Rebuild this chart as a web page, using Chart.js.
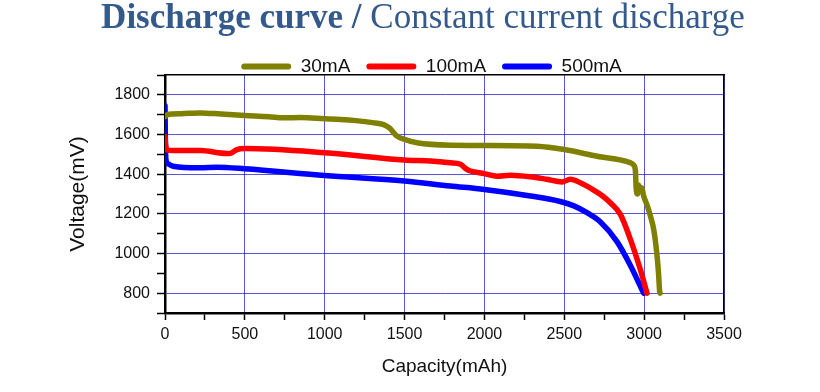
<!DOCTYPE html>
<html>
<head>
<meta charset="utf-8">
<script src="https://cdn.jsdelivr.net/npm/chart.js@4.4.1/dist/chart.umd.min.js"></script>
<style>
  html, body { margin: 0; padding: 0; background: #fff; }
  #wrap { position: relative; width: 820px; height: 392px; }
  #title {
    position: absolute; left: 0; top: -1px; width: 846px; text-align: center;
    font-family: "Liberation Serif", "Times New Roman", serif; font-size: 35px;
    line-height: 36px; color: #345a8c; white-space: nowrap;
  }
  canvas { position: absolute; left: 0; top: 0; }
</style>
</head>
<body>
<div id="wrap">
  <canvas id="chart" width="820" height="392"></canvas>
  <div id="title"><b>Discharge curve /</b> Constant current discharge</div>
</div>
<script>
// 30mA
const cap30 = [0, 15, 100, 221, 350, 500, 650, 743, 850, 1000, 1100, 1196, 1300, 1369, 1405, 1453, 1500, 1578, 1786, 2000, 2329, 2500, 2705, 2914, 2935, 2945, 2950, 2958, 2965, 2975, 2985, 2997, 3020, 3039, 3060, 3081, 3090, 3097, 3100];
const volt30 = [1690, 1700, 1705, 1709, 1703, 1696, 1690, 1684, 1686, 1680, 1676, 1670, 1660, 1650, 1633, 1592, 1575, 1558, 1546, 1545, 1541, 1524, 1490, 1457, 1445, 1420, 1330, 1300, 1345, 1320, 1330, 1290, 1240, 1190, 1121, 987, 900, 810, 800];
// 100mA
const cap100 = [0, 5, 20, 221, 388, 410, 450, 500, 1000, 1500, 1662, 1786, 1850, 1880, 1900, 2000, 2079, 2162, 2288, 2392, 2486, 2537, 2600, 2684, 2740, 2788, 2851, 2914, 2976, 3018];
const volt100 = [1590, 1540, 1521, 1519, 1504, 1505, 1524, 1529, 1508, 1471, 1466, 1457, 1450, 1430, 1420, 1403, 1390, 1395, 1387, 1374, 1361, 1374, 1357, 1320, 1290, 1256, 1197, 1071, 919, 800];
// 500mA
const cap500 = [0, 2, 5, 15, 50, 221, 325, 500, 1000, 1500, 1786, 2000, 2288, 2475, 2560, 2642, 2725, 2830, 2914, 2997];
const volt500 = [1745, 1600, 1480, 1455, 1440, 1432, 1435, 1427, 1393, 1365, 1340, 1323, 1290, 1262, 1240, 1206, 1160, 1060, 940, 800];

const seriesLabels = ['30mA', '100mA', '500mA'];
const seriesColors = ['#808000', '#ff0000', '#0000ff'];

const xMin = 0, xMax = 3500, xStep = 250, xLabelStep = 500;
const yMin = 700, yMax = 1900, yStep = 100, yLabelStep = 200;

const toPoints = (xs, ys) => xs.map((x, i) => ({ x, y: ys[i] }));
const allCaps = [cap30, cap100, cap500];
const allVolts = [volt30, volt100, volt500];

const gridBlue = 'rgba(30,30,200,0.75)';

const legendShift = {
  id: 'legendShift',
  afterLayout(chart) {
    const lg = chart.legend;
    lg.top += 11; lg.bottom += 11;
    lg.left -= 13; lg.right -= 13;
  }
};

new Chart(document.getElementById('chart'), {
  type: 'line',
  data: {
    datasets: seriesLabels.map((label, i) => ({
      label,
      data: toPoints(allCaps[i], allVolts[i]),
      borderColor: seriesColors[i],
      backgroundColor: seriesColors[i],
      borderWidth: 5.5,
      pointRadius: 0,
      cubicInterpolationMode: 'monotone',
      borderCapStyle: 'round',
      borderJoinStyle: 'round',
      xAxisID: 'x',
      yAxisID: 'y'
    }))
  },
  options: {
    responsive: false,
    animation: false,
    layout: { padding: { top: 30, right: 96, bottom: 0, left: 0 } },
    plugins: {
      legend: {
        fullSize: false,
        labels: {
          boxWidth: 50,
          boxHeight: 6,
          useBorderRadius: true,
          borderRadius: 3,
          padding: 16,
          color: '#111',
          font: { family: 'Liberation Sans, Arial, sans-serif', size: 19 },
          generateLabels: (chart) => Chart.defaults.plugins.legend.labels.generateLabels(chart).map(l => ({ ...l, lineWidth: 0 }))
        }
      },
      tooltip: { enabled: false }
    },
    scales: {
      x: {
        type: 'linear', position: 'bottom', min: xMin, max: xMax,
        afterFit: (s) => { s.height = 79; },
        ticks: {
          stepSize: xStep, autoSkip: false, maxRotation: 0, padding: 5, color: '#111',
          font: { family: 'Liberation Sans, Arial, sans-serif', size: 16 },
          callback: (v) => v % xLabelStep === 0 ? v : ''
        },
        grid: {
          color: (c) => (c.tick && c.tick.value % xLabelStep === 0) ? gridBlue : 'rgba(0,0,0,0)',
          lineWidth: 1, tickColor: '#000', tickLength: 7, tickWidth: 1.5
        },
        border: { color: '#000', width: 2.5 },
        title: {
          display: true, text: 'Capacity(mAh)', color: '#111',
          font: { family: 'Liberation Sans, Arial, sans-serif', size: 19 },
          padding: { top: 0, bottom: 14 }
        }
      },
      y: {
        type: 'linear', position: 'left', min: yMin, max: yMax,
        afterFit: (s) => { s.width = 165; },
        ticks: {
          stepSize: yStep, autoSkip: false, padding: 7, color: '#111',
          font: { family: 'Liberation Sans, Arial, sans-serif', size: 16 },
          callback: (v) => v % yLabelStep === 0 ? v : ''
        },
        grid: {
          color: (c) => (c.tick && c.tick.value % yLabelStep === 0) ? gridBlue : 'rgba(0,0,0,0)',
          lineWidth: 1, tickColor: '#000', tickLength: 8, tickWidth: 1.5
        },
        border: { color: '#000', width: 2.5 },
        title: {
          display: true, text: 'Voltage(mV)', color: '#111',
          font: { family: 'Liberation Sans, Arial, sans-serif', size: 21 },
          padding: { top: 66, bottom: 0 }
        }
      },
      x2: {
        type: 'linear', position: 'top', min: xMin, max: xMax,
        afterFit: (s) => { s.height = 0; },
        ticks: { display: false },
        grid: { display: false },
        border: { color: '#000', width: 1.5 }
      },
      y2: {
        type: 'linear', position: 'right', min: yMin, max: yMax,
        afterFit: (s) => { s.width = 0; },
        ticks: { display: false },
        grid: { display: false },
        border: { color: '#000', width: 1.5 }
      }
    }
  },
  plugins: [legendShift]
});
</script>
</body>
</html>
